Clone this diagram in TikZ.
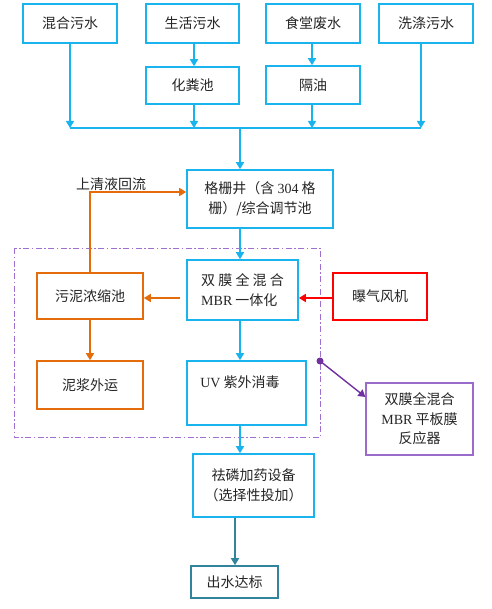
\documentclass[tikz,border=0pt]{standalone}
\usepackage{fontspec}
\setmainfont{Liberation Serif}
\newfontfamily\cjk{Noto Sans CJK SC}
\usetikzlibrary{arrows.meta}
\newcommand\lat[1]{{\rmfamily #1}}
\definecolor{cblue}{HTML}{19B4EE}
\definecolor{corange}{HTML}{E46C0A}
\definecolor{cred}{HTML}{FF0000}
\definecolor{cpurple}{HTML}{7030A0}
\definecolor{cpurplel}{HTML}{9B6BCB}
\definecolor{cdash}{HTML}{A070D0}
\definecolor{cteal}{HTML}{31849B}
\begin{document}
\begin{tikzpicture}[x=1pt,y=-1pt,
  box/.style={draw, line width=1.6pt, fill=white, inner sep=2pt, align=center,
    font=\fontsize{14}{19.5}\selectfont\cjk, text=black!85},
  bluebox/.style={box, draw=cblue},
  orbox/.style={box, draw=corange},
  redbox/.style={box, draw=cred},
  purbox/.style={box, draw=cpurplel, line width=1.2pt},
  tealbox/.style={box, draw=cteal},
  txt/.style={inner sep=0pt, font=\fontsize{14}{19.5}\selectfont\cjk, text=black!85},
  arr/.style={line width=1.4pt, -{Triangle[length=7pt,width=8pt]}},
  barr/.style={arr, draw=cblue},
  oarr/.style={arr, draw=corange},
  rarr/.style={arr, draw=cred},
  parr/.style={arr, draw=cpurple},
  tarr/.style={arr, draw=cteal},
  bline/.style={line width=1.4pt, draw=cblue}]
\useasboundingbox (0,0) rectangle (491,609);
\fill[white] (0,0) rectangle (491,609);

% dash-dot frame
\draw[cdash, line width=1pt, dash pattern=on 6pt off 2.5pt on 1.5pt off 2.5pt] (14,248) rectangle (320,437);

% top sources
\node[bluebox, minimum width=94pt, minimum height=39pt] (b1) at (70,23.5) {混合污水};
\node[bluebox, minimum width=93pt, minimum height=39pt] (b2) at (192.5,23.5) {生活污水};
\node[bluebox, minimum width=94pt, minimum height=39pt] (b3) at (313,23.5) {食堂废水};
\node[bluebox, minimum width=94pt, minimum height=39pt] (b4) at (426,23.5) {洗涤污水};
\node[bluebox, minimum width=93pt, minimum height=37pt] (c2) at (192.5,85.5) {化粪池};
\node[bluebox, minimum width=94pt, minimum height=38pt] (c3) at (313,85) {隔油};

\node[bluebox, minimum width=146pt, minimum height=58pt] (gs) at (260,199) {格栅井（含 \lat{304} 格\\栅）/综合调节池};
\node[bluebox, minimum width=111pt, minimum height=60pt, align=left] (mbr) at (242.5,290) {双 膜 全 混 合\\\lat{MBR} 一体化};
\node[orbox, minimum width=106pt, minimum height=46pt] (sludge) at (90,296) {污泥浓缩池};
\node[redbox, minimum width=94pt, minimum height=47pt] (fan) at (380,296.5) {曝气风机};
\node[orbox, minimum width=106pt, minimum height=48pt] (slurry) at (90,385) {泥浆外运};
\node[bluebox, minimum width=119pt, minimum height=64pt] (uv) at (246.5,393) {};
\node[txt] (uvt) at (240,382) {\lat{UV} 紫外消毒};
\node[purbox, minimum width=107pt, minimum height=72pt] (ref) at (419.5,419) {双膜全混合\\\lat{MBR} 平板膜\\反应器};
\node[bluebox, minimum width=121pt, minimum height=63pt] (dose) at (253.5,485.5) {祛磷加药设备\\（选择性投加）};
\node[tealbox, minimum width=87pt, minimum height=32pt] (out) at (234.5,582) {出水达标};

\node[txt] (lbl) at (111,184) {上清液回流};

% coordinates
\coordinate (j1) at (70,128);
\coordinate (j2) at (194,128);
\coordinate (j3) at (312,128);
\coordinate (j4) at (421,128);
\coordinate (jm) at (240,128);
\coordinate (cx) at (240,0);
\coordinate (tx) at (235,0);
\coordinate (rx) at (90,0);
\coordinate (ry) at (0,192);
\coordinate (ms) at (180,298);
\coordinate (dot) at (320,361);
\coordinate (rin) at (0,397);

% top connectors
\draw[barr] (b1.south -| j1) -- (j1);
\draw[barr] (b2.south -| j2) -- (c2.north -| j2);
\draw[barr] (b3.south -| j3) -- (c3.north -| j3);
\draw[barr] (c2.south -| j2) -- (j2);
\draw[barr] (c3.south -| j3) -- (j3);
\draw[barr] (b4.south -| j4) -- (j4);
\draw[bline] (j1) -- (j4);
\draw[barr] (jm) -- (gs.north -| jm);

% main line
\draw[barr] (gs.south -| cx) -- (mbr.north -| cx);
\draw[barr] (mbr.south -| cx) -- (uv.north -| cx);
\draw[barr] (uv.south -| cx) -- (dose.north -| cx);
\draw[tarr] (dose.south -| tx) -- (out.north -| tx);

% side
\draw[oarr] (ms) -- (sludge.east |- ms);
\draw[rarr] (fan.west |- ms) -- (mbr.east |- ms);
\draw[oarr] (sludge.south) -- (slurry.north);
\draw[oarr] (sludge.north -| rx) |- (gs.west |- ry);

% purple pointer
\fill[cpurple] (dot) circle (3.5pt);
\draw[parr] (dot) -- (ref.west |- rin);
\end{tikzpicture}
\end{document}
